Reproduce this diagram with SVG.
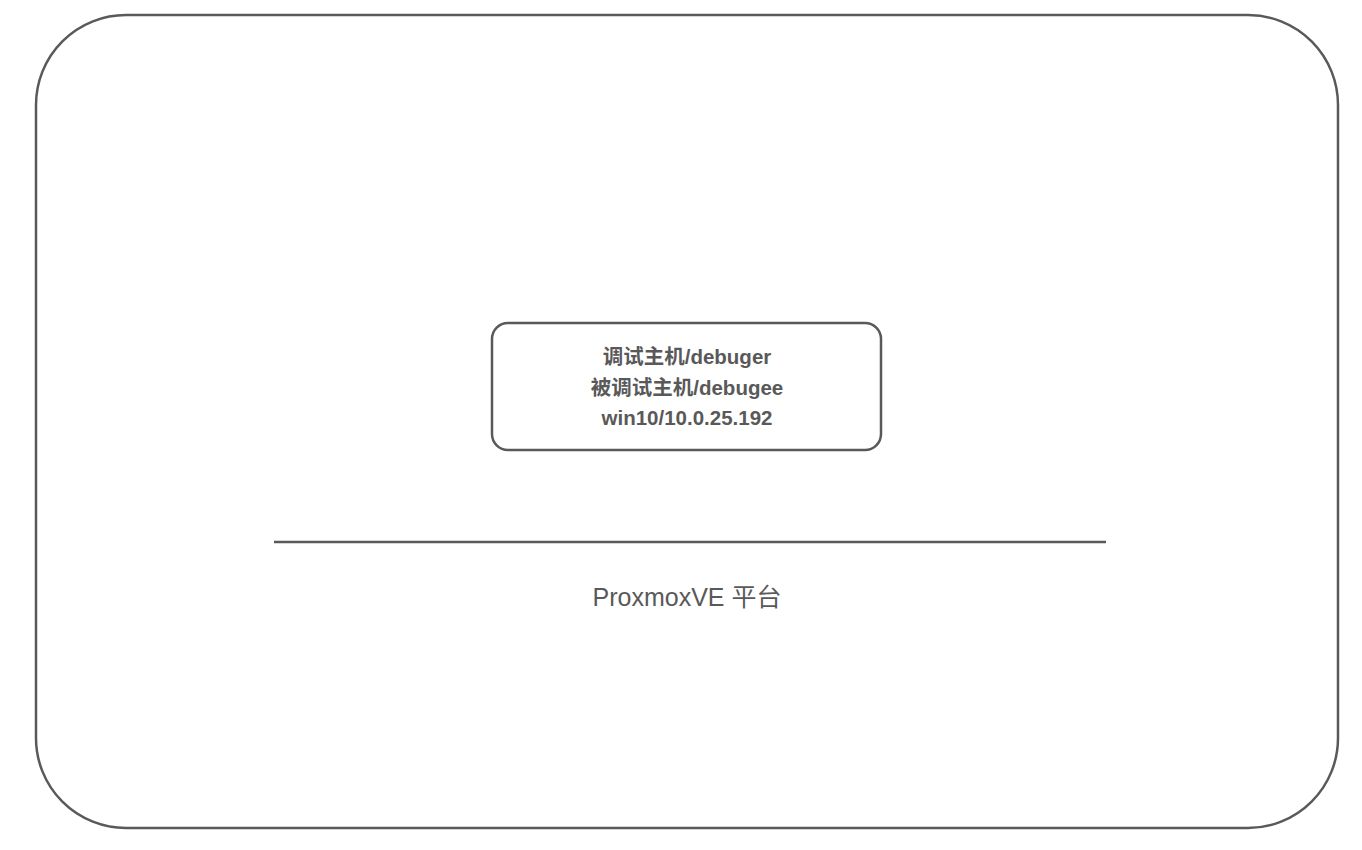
<svg xmlns="http://www.w3.org/2000/svg" width="1362" height="850" viewBox="0 0 1362 850">
<style>
.frame{fill:#fff;stroke:#595959;stroke-width:2.5}
.t{font-family:"Liberation Sans","Noto Sans CJK SC",sans-serif;fill:#595959;text-anchor:middle}
.b{font-weight:bold;font-size:20.5px}
</style>
<rect width="1362" height="850" fill="#fff"/>
<g id="platform">
<rect class="frame" x="36" y="15" width="1302" height="813" rx="90" ry="90"/>
<text class="t" x="687" y="606" font-size="25">ProxmoxVE 平台</text>
</g>
<g id="host">
<rect class="frame" x="492" y="323" width="389" height="127" rx="16" ry="16"/>
<text class="t b" x="687" y="364">调试主机/debuger</text>
<text class="t b" x="687" y="395">被调试主机/debugee</text>
<text class="t b" x="687" y="425">win10/10.0.25.192</text>
</g>
<g id="connectors">
<line x1="274" y1="542" x2="1106" y2="542" stroke="#595959" stroke-width="2.5"/>
</g>
</svg>
